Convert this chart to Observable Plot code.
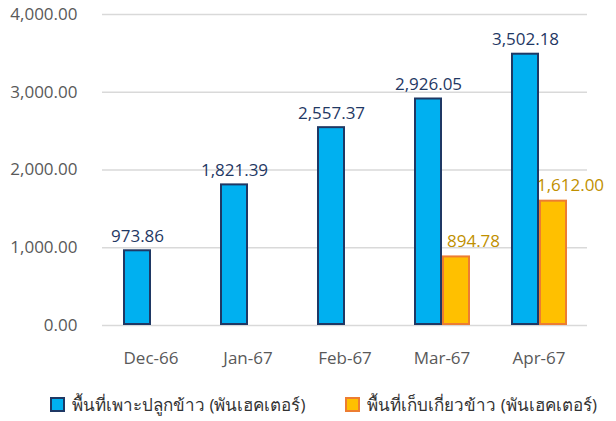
<!DOCTYPE html>
<html>
<head>
<meta charset="utf-8">
<script src="https://cdn.jsdelivr.net/npm/d3@7"></script>
<script src="https://cdn.jsdelivr.net/npm/@observablehq/plot@0.6"></script>
<style>
  body { margin: 0; background: #fff; font-family: "Open Sans", "Noto Sans", sans-serif; }
  #legend { display: flex; height: 46px; align-items: center; font-size: 17px; color: #333; padding-left: 50px; padding-top: 6px; }
  .item { display: flex; align-items: center; }
  .sw { width: 11px; height: 11px; border: 2px solid; margin-right: 7px; }
</style>
</head>
<body>
<div id="chart"></div>
<div id="legend"></div>
<script>
const months = ["Dec-66", "Jan-67", "Feb-67", "Mar-67", "Apr-67"];
const planted = [973.86, 1821.39, 2557.37, 2926.05, 3502.18];
const harvested = [null, null, null, 894.78, 1612.00];
const seriesNames = ["พื้นที่เพาะปลูกข้าว (พันเฮคเตอร์)", "พื้นที่เก็บเกี่ยวข้าว (พันเฮคเตอร์)"];
const yTicks = [0, 1000, 2000, 3000, 4000];

const fills = ["#00B0F0", "#FFC000"];
const strokes = ["#1F3864", "#ED7D31"];

const rows = [];
months.forEach((m, i) => {
  rows.push({month: m, series: seriesNames[0], value: planted[i]});
  if (harvested[i] != null) rows.push({month: m, series: seriesNames[1], value: harvested[i]});
});
const bluRows = rows.filter(d => d.series === seriesNames[0]);
const orRows = rows.filter(d => d.series === seriesNames[1]);
const fmt = d3.format(",.2f");

const chart = Plot.plot({
  width: 616,
  height: 375,
  marginTop: 14,
  marginBottom: 50,
  marginLeft: 100,
  marginRight: 28,
  style: {fontFamily: "Open Sans, sans-serif", fontSize: "17px", color: "#595959", background: "#fff"},
  fx: {domain: months, padding: 0, label: null, axis: "bottom", tickSize: 0, tickPadding: 26},
  x: {domain: seriesNames, paddingInner: 0, paddingOuter: 0.68, axis: null},
  y: {domain: [0, 4000], ticks: yTicks, tickFormat: fmt, label: null, tickSize: 0, tickPadding: 25},
  marks: [
    Plot.gridY(yTicks, {stroke: "#d9d9d9", strokeOpacity: 1, strokeWidth: 1.5}),
    Plot.barY(rows, {fx: "month", x: "series", y: "value",
      fill: d => d.series === seriesNames[0] ? fills[0] : fills[1],
      stroke: d => d.series === seriesNames[0] ? strokes[0] : strokes[1],
      strokeWidth: 2, inset: 1}),
    Plot.text(bluRows, {fx: "month", x: "series", y: "value", text: d => fmt(d.value),
      lineAnchor: "bottom", dy: -8, fill: "#1F3864", fontSize: 17, fontWeight: 500}),
    Plot.text(orRows, {fx: "month", x: "series", y: "value", text: d => fmt(d.value),
      lineAnchor: "bottom", dy: -9, dx: 17, fill: "#BF9000", fontSize: 17, fontWeight: 500})
  ]
});
document.getElementById("chart").appendChild(chart);

const legend = document.getElementById("legend");
seriesNames.forEach((name, i) => {
  const it = document.createElement("div");
  it.className = "item";
  if (i === 1) it.style.marginLeft = "40px";
  const sw = document.createElement("div");
  sw.className = "sw";
  sw.style.background = fills[i];
  sw.style.borderColor = strokes[i];
  const t = document.createElement("span");
  t.textContent = name;
  it.appendChild(sw);
  it.appendChild(t);
  legend.appendChild(it);
});
</script>
</body>
</html>
